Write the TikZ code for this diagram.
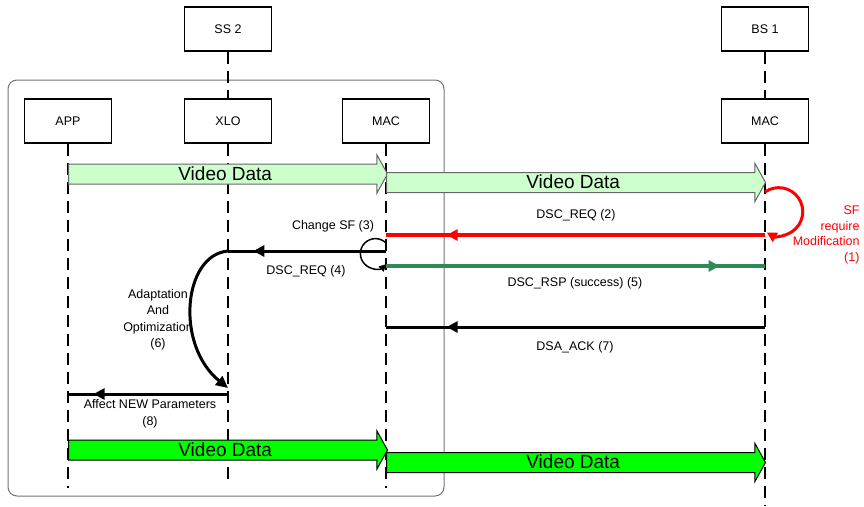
\documentclass[tikz,border=0pt]{standalone}
\usepackage{fontspec}
\setmainfont{Liberation Sans}
\usetikzlibrary{arrows.meta,shapes.arrows,decorations.markings,positioning}
\definecolor{vidlight}{HTML}{CCFFCC}
\definecolor{vidgreen}{HTML}{00FF00}
\definecolor{rspgreen}{HTML}{2E8B57}

\begin{document}
\begin{tikzpicture}[x=1pt,y=1pt]
	\tikzset{every node/.style={font=\fontsize{12.5}{16.5}\selectfont}}
	\tikzset{entity/.style = {draw,line width=1.5pt,fill=white,minimum width=87pt,minimum height=44pt,inner sep=0pt}}
	\tikzset{life/.style = {line width=1.5pt,dash pattern=on 12pt off 7pt}}
	\tikzset{msg/.style = {line width=3pt,postaction={decorate},
			decoration={markings,mark=at position #1 with {\arrow{Triangle[length=11pt,width=11pt]}}}}}
	\tikzset{vidarrow/.style = {single arrow,minimum height=#1,anchor=tail,
			single arrow head extend=9pt,single arrow tip angle=122,single arrow head indent=0pt,
			inner xsep=0pt,inner ysep=2.5pt,text height=13pt,text depth=1pt,line width=1pt,
			font=\fontsize{19}{19}\selectfont}}
	\useasboundingbox (0,0) rectangle (864,-506);
    % SS 2 container
    \draw[black!55,line width=1pt,rounded corners=9pt] (8,-80) rectangle (444,-496);
    % lifeline ends
    \coordinate (app-end) at (68,-488);
    \coordinate (xlo-end) at (228,-480);
    \coordinate (mac-end) at (386,-488);
    \coordinate (bs-end) at (765,-506);
    % vertices
    \node[entity] (ss) at (228,-29) {SS 2};
    \node[entity] (bs) at (765,-29) {BS 1};
    \node[entity] (app) at (68,-121) {APP};
    \node[entity] (xlo) at (228,-121) {XLO};
    \node[entity] (mac) at (386,-121) {MAC};
    \node[entity] (bsmac) at (765,-121) {MAC};
    % lifelines
    \draw[life] (ss) -- (xlo);
    \draw[life] (bs) -- (bsmac);
    \draw[life] (app) -- (app-end);
    \draw[life] (xlo) -- (xlo-end);
    \draw[life] (mac) -- (mac-end);
    \draw[life] (bsmac) -- (bs-end);
    % video data
    \node[vidarrow=319pt,fill=vidlight,draw=black!60] (vid1) at (68,-174) {Video Data};
    \node[vidarrow=379pt,fill=vidlight,draw=black!60] (vid2) at (386,-182.5) {Video Data};
    \node[vidarrow=319pt,fill=vidgreen,draw=black] (vid3) at (68,-450) {Video Data};
    \node[vidarrow=379pt,fill=vidgreen,draw=black] (vid4) at (386,-462.5) {Video Data};
    % message points
    \coordinate (bs-loop) at (765,-192);
    \coordinate (bs-req) at (765,-235);
    \coordinate (mac-req) at (386,-235);
    \coordinate (mac-loop) at (386,-243);
    \coordinate (mac-req4) at (386,-251);
    \coordinate (xlo-req4) at (228,-251);
    \coordinate (mac-rsp) at (386,-266);
    \coordinate (bs-rsp) at (765,-266);
    \coordinate (bs-ack) at (765,-327);
    \coordinate (mac-ack) at (386,-327);
    \coordinate (xlo-adapt) at (228,-388);
    \coordinate (xlo-new) at (228,-394);
    \coordinate (app-new) at (68,-394);
    %edges
    \draw[red,line width=3pt,-{Triangle[length=10pt,width=10pt]}] (bs-loop) arc[start angle=125,end angle=-120,radius=24];
    \draw[msg=0.84,red,line width=3.5pt] (bs-req) -- (mac-req);
    \draw[line width=1.5pt,-{Triangle[length=7pt,width=7pt]}] (mac-loop) arc[start angle=45,end angle=315,radius=15];
    \draw[msg=0.84] (mac-req4) -- (xlo-req4);
    \draw[msg=0.88,rspgreen,line width=3.5pt] (mac-rsp) -- (bs-rsp);
    \draw[line width=3pt,-{Triangle[length=12pt,width=11pt]}] (xlo-req4) .. controls (183,-255) and (175,-345) .. (xlo-adapt);
    \draw[msg=0.84] (bs-ack) -- (mac-ack);
    \draw[msg=0.84] (xlo-new) -- (app-new);
    % labels
    \node[red,align=right,anchor=east,font=\fontsize{12.5}{15.5}\selectfont] (lblsf) at (863,-235) {SF\\require\\Modification\\(1)};
    \node (lblreq2) at (576,-215) {DSC\_REQ (2)};
    \node (lblchg) at (333,-226) {Change SF (3)};
    \node (lblreq4) at (306,-271) {DSC\_REQ (4)};
    \node (lblrsp) at (575,-283) {DSC\_RSP (success) (5)};
    \node[align=center] (lbladapt) at (158,-320) {Adaptation\\And\\Optimization\\(6)};
    \node (lblack) at (575,-347) {DSA\_ACK (7)};
    \node[align=center] (lblnew) at (150,-414) {Affect NEW Parameters\\(8)};
\end{tikzpicture}
\end{document}
